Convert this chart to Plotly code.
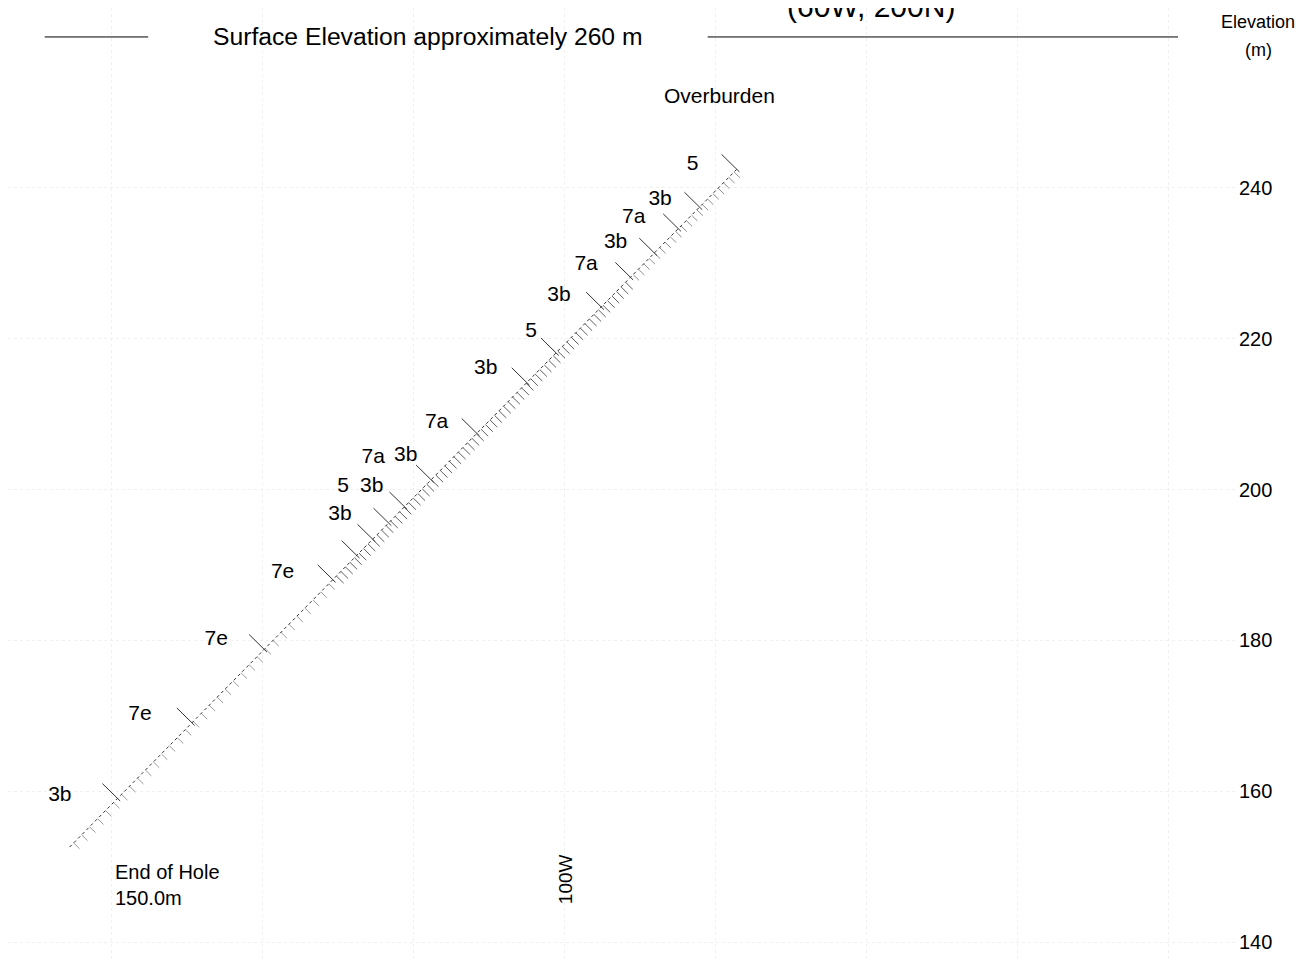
import numpy as np
import plotly.graph_objects as go

# ---------------- data ----------------
collar_E, collar_elev = -60.0, 260.0      # hole collar (60W), surface ~260 m
end_E, end_elev = -165.6, 152.6           # end of hole
hole_length = 150.0
overburden_to = 24.5

contact_depths = [24.5, 31.5, 35.5, 40.0, 44.5, 50.0, 58.5, 64.0, 73.4,
                  82.0, 87.0, 90.0, 93.0, 96.0, 100.5, 113.4, 127.0, 141.0]

label_text = ["5", "3b", "7a", "3b", "7a", "3b", "5", "3b", "7a",
              "3b", "7a", "3b", "5", "3b", "7e", "7e", "7e", "3b"]
label_E = [-83.1, -87.4, -90.9, -93.3, -97.2, -100.8, -104.5, -110.5, -117.0,
           -121.1, -125.4, -125.6, -129.4, -129.8, -137.4, -146.2, -156.3, -166.9]
label_elev = [243.1, 238.4, 236.0, 232.7, 229.8, 225.7, 220.9, 216.0, 208.9,
              204.5, 204.2, 200.3, 200.3, 196.7, 189.0, 180.1, 170.2, 159.4]

hatch_from = [24.5, 45.0, 100.5]
hatch_to = [45.0, 100.5, 150.0]

elev_ticks = [140, 160, 180, 200, 220, 240]
grid_E = [-160, -140, -120, -100, -80, -60, -40, -20]
surface_elev = 260.0
surface_left = [-168.9, -155.2]
surface_right = [-81.1, -18.8]

# ---------------- geometry helpers ----------------
ux = (end_E - collar_E) / hole_length
uy = (end_elev - collar_elev) / hole_length
nrm = np.hypot(ux, uy)
px_, py_ = -uy / nrm, ux / nrm          # perpendicular pointing lower-right

def along(d, off=0.0):
    return collar_E + ux * d + px_ * off, collar_elev + uy * d + py_ * off

def segments(depths, off_a, off_b):
    xs, ys = [], []
    for d in depths:
        x0, y0 = along(d, off_a)
        x1, y1 = along(d, off_b)
        xs += [x0, x1, None]
        ys += [y0, y1, None]
    return xs, ys

fig = go.Figure()

# surface elevation line
for seg in (surface_left, surface_right):
    fig.add_trace(go.Scatter(x=seg, y=[surface_elev, surface_elev], mode="lines",
                             line=dict(color="#000", width=1), hoverinfo="skip",
                             showlegend=False))

# hatch ticks
styles = [(1.0, "#8f8f8f", 1.1), (0.85, "#5f5f5f", 1.35), (1.5, "#9a9a9a", 1.1)]
for f, t, (sp, col, ln) in zip(hatch_from, hatch_to, styles):
    ds = np.arange(f + sp / 2, t, sp)
    xs, ys = segments(ds, 0.0, ln)
    fig.add_trace(go.Scatter(x=xs, y=ys, mode="lines", line=dict(color=col, width=1),
                             hoverinfo="skip", showlegend=False))

# hole trace (below overburden)
hx0, hy0 = along(overburden_to)
hx1, hy1 = along(hole_length)
fig.add_trace(go.Scatter(x=[hx0, hx1], y=[hy0, hy1], mode="lines",
                         line=dict(color="#333", width=1, dash="dot"),
                         hoverinfo="skip", showlegend=False))

# contacts
xs, ys = segments(contact_depths, -2.8, 0.5)
fig.add_trace(go.Scatter(x=xs, y=ys, mode="lines", line=dict(color="#333", width=1),
                         hoverinfo="skip", showlegend=False))

# unit labels
fig.add_trace(go.Scatter(x=label_E, y=label_elev, mode="text", text=label_text,
                         textfont=dict(family="Arial", size=21, color="#000"),
                         hoverinfo="skip", showlegend=False))

font = dict(family="Arial", color="#000")
ann = [
    dict(x=-118.1, y=surface_elev, xref="x", yref="y", text="Surface Elevation approximately 260 m",
         showarrow=False, font=dict(size=24.7, **font)),
    dict(x=-79.5, y=252.3, xref="x", yref="y", text="Overburden", showarrow=False,
         font=dict(size=21, **font)),
    dict(x=-159.9, y=147.5, xref="x", yref="y", text="End of Hole<br>150.0m", showarrow=False,
         xanchor="left", align="left", font=dict(size=20, **font)),
    dict(x=-99.9, y=148.3, xref="x", yref="y", text="100W", textangle=-90, showarrow=False,
         font=dict(size=19, **font)),
    dict(x=-59.5, y=1, xref="x", yref="paper", text="(60W, 200N)", showarrow=False,
         xanchor="center", yanchor="middle", yshift=2, font=dict(size=30, **font)),
    dict(x=1.0163, y=1, xref="paper", yref="paper", text="Elevation", showarrow=False,
         xanchor="center", yanchor="middle", yshift=-14, font=dict(size=18, **font)),
    dict(x=1.0163, y=1, xref="paper", yref="paper", text="(m)", showarrow=False,
         xanchor="center", yanchor="middle", yshift=-42, font=dict(size=18, **font)),
]

fig.update_layout(
    width=1314, height=959,
    margin=dict(l=0, r=84, t=0, b=0),
    paper_bgcolor="white", plot_bgcolor="white",
    annotations=ann,
    xaxis=dict(range=[-173.77, -10.86], showticklabels=False, ticks="",
               tickvals=grid_E, showgrid=True, gridcolor="#f0f0f0", griddash="dot",
               zeroline=False, showline=False),
    yaxis=dict(range=[136.69, 263.84], side="right", tickvals=elev_ticks,
               ticks="", tickfont=dict(family="Arial", size=20, color="#000"),
               showgrid=True, gridcolor="#f0f0f0", griddash="dot",
               zeroline=False, showline=False),
)

fig.write_html("out.html")
